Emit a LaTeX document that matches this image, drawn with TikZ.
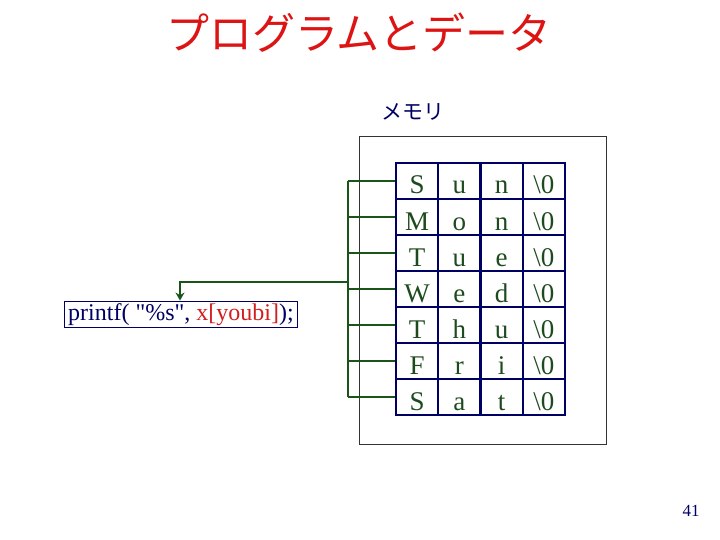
\documentclass[tikz,border=0pt]{standalone}
\usepackage{fontspec}
\setmainfont{Liberation Serif}
\newfontfamily\jpfont{Noto Sans CJK JP}
\usetikzlibrary{arrows.meta}
\definecolor{titlered}{RGB}{220,20,20}
\definecolor{navyc}{RGB}{0,0,100}
\definecolor{linkgreen}{RGB}{25,85,25}
\definecolor{textgreen}{RGB}{30,75,30}
\definecolor{codered}{RGB}{210,30,30}
\tikzset{
  cell/.style={draw=navyc, line width=2.4pt, minimum width=42.25pt, minimum height=36pt,
    inner sep=0pt, text height=31pt, text depth=5pt, text=textgreen,
    font=\fontsize{27}{27}\selectfont},
  link/.style={draw=linkgreen, line width=2.5pt},
  memframe/.style={draw=black!80, line width=0.8pt},
}
\begin{document}
\begin{tikzpicture}[x=1pt,y=-1pt]
\useasboundingbox (0,0) rectangle (720,540);
% title
\node[text=titlered, font=\jpfont\fontsize{43}{43}\selectfont] (title) at (359,33) {プログラムとデータ};
% memory label
\node[text=navyc, font=\jpfont\fontsize{21}{21}\selectfont] (memlabel) at (413,112) {メモリ};
% memory frame
\draw[memframe] (359,136) rectangle (606,444);
% table cells
\foreach \r/\a/\b/\c in {1/S/u/n, 2/M/o/n, 3/T/u/e, 4/W/e/d, 5/T/h/u, 6/F/r/i, 7/S/a/t} {
  \pgfmathsetmacro{\yy}{181+36*(\r-1)}
  \node[cell] (c-\r-1) at (417.1,\yy) {\a};
  \node[cell] (c-\r-2) at (459.4,\yy) {\b};
  \node[cell] (c-\r-3) at (501.6,\yy) {\c};
  \node[cell] (c-\r-4) at (543.9,\yy) {\textbackslash 0};
}
% bracket
\coordinate (spine) at (348,282);
\draw[link] (spine|-c-1-1.west) -- (spine|-c-7-1.west);
\foreach \r in {1,...,7} {
  \draw[link] (spine|-c-\r-1.west) -- (c-\r-1.west);
}
% printf box
\node[draw=navyc, line width=0.9pt, inner xsep=4pt, inner ysep=0pt, minimum height=26pt,
  text height=17pt, text depth=5pt, text=navyc,
  font=\fontsize{24}{24}\selectfont] (code) at (181,314)
  {printf( \textquotedbl\%s\textquotedbl, \textcolor{codered}{x[youbi]});};
\coordinate (bend) at (180,282);
\draw[link, line width=2.2pt, -{Stealth[length=8pt,width=9pt]}] (spine) -- (bend) -- (bend|-code.north);
% page number
\node[text=navyc, font=\fontsize{17}{17}\selectfont] (pagenum) at (691,511) {41};
\end{tikzpicture}
\end{document}
